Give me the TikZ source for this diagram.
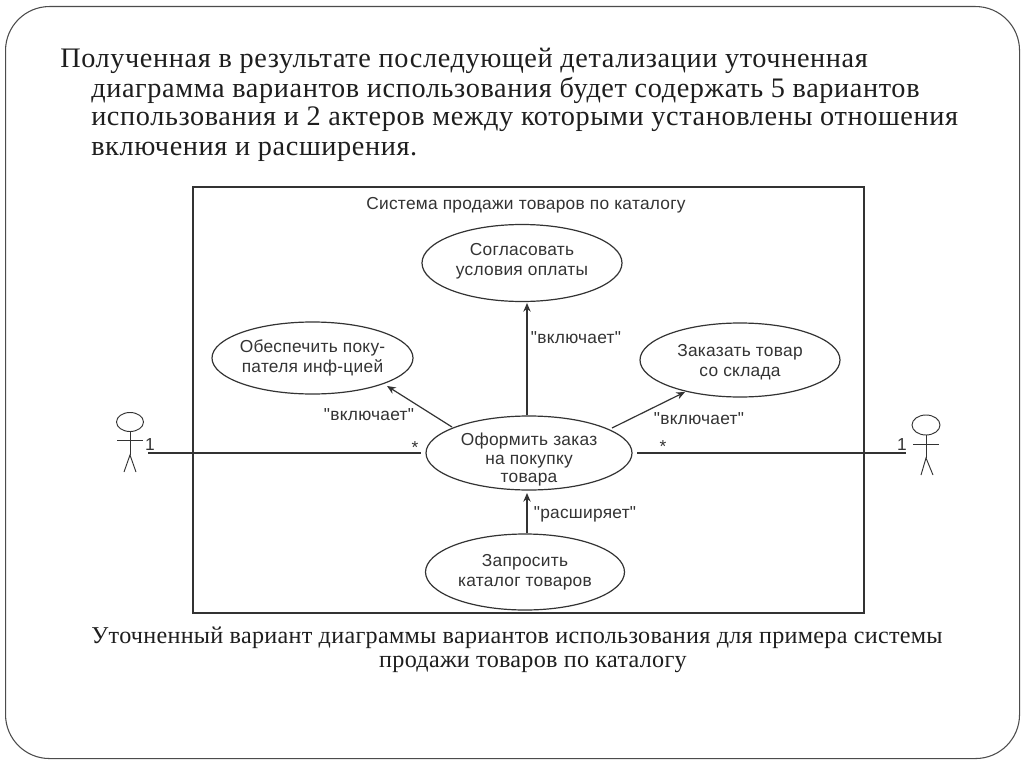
\documentclass[tikz,border=0pt]{standalone}
\usepackage{fontspec}
\setmainfont{Liberation Serif}
\newfontfamily\headfont[LetterSpace=2.2]{Liberation Serif}
\newfontfamily\capfont[LetterSpace=1.2]{Liberation Serif}
\newfontfamily\diafont[LetterSpace=1.5]{Liberation Sans}
\usetikzlibrary{shapes.geometric,arrows.meta}
\definecolor{ink}{HTML}{1E1E1E}
\definecolor{dia}{HTML}{333333}
\newcommand{\uclines}[2]{\raisebox{\dimexpr#1-3.2pt\relax}[0pt][0pt]{\begin{tabular}{@{}c@{}}#2\end{tabular}}}
\tikzset{
  x=0.75pt,y=-0.75pt,
  headline/.style={anchor=base west,inner sep=0,text=ink,font=\headfont\fontsize{21.2}{22}\selectfont},
  capline/.style={anchor=base,inner sep=0,text=ink,font=\capfont\fontsize{18.1}{20}\selectfont},
  usecase/.style={draw=dia,line width=0.9pt,ellipse,minimum width=#1*0.75pt,inner sep=-14pt,text=dia,font=\diafont\fontsize{13}{15}\selectfont},
  dialabel/.style={inner sep=0,text=dia,font=\diafont\fontsize{13}{15}\selectfont},
  dep/.style={draw=dia,line width=0.9pt,-{Stealth[length=6.5pt,width=5.5pt]}},
  assoc/.style={draw=dia,line width=0.9pt},
  stick/.style={draw=dia,line width=0.7pt},
}
\begin{document}
\begin{tikzpicture}
\useasboundingbox (0,0) rectangle (1024,767);
\fill[white] (0,0) rectangle (1024,767);
\node[draw=black!70,line width=0.8pt,rounded corners=33pt,minimum width=1014*0.75pt,minimum height=752*0.75pt,inner sep=0,anchor=north west] (slide) at (5,6) {};
\node[headline] (h1) at (60,68) {Полученная в результате последующей детализации уточненная};
\node[headline] (h2) at (91,98) {диаграмма вариантов использования будет содержать 5 вариантов};
\node[headline] (h3) at (91,125) {использования и 2 актеров между которыми установлены отношения};
\node[headline] (h4) at (91,155) {включения и расширения.};
\node[draw=dia,line width=1.2pt,minimum width=671*0.75pt,minimum height=426*0.75pt,inner sep=0,anchor=north west] (frame) at (192,186) {};
\node[dialabel] (title) at (526,205) {Система продажи товаров по каталогу};
\node[usecase=200,minimum height=77*0.75pt] (pay) at (522,263) {\uclines{1.5pt}{Согласовать\\условия оплаты}};
\node[usecase=201,minimum height=72*0.75pt] (info) at (312.5,358) {\uclines{0pt}{Обеспечить поку-\\пателя инф-цией}};
\node[usecase=200,minimum height=74*0.75pt] (stock) at (740,360) {\uclines{-2pt}{Заказать товар\\со склада}};
\node[usecase=206,minimum height=74*0.75pt,font=\diafont\fontsize{13}{14}\selectfont] (order) at (529,453) {\uclines{-5.25pt}{Оформить заказ\\на покупку\\товара}};
\node[usecase=199,minimum height=76*0.75pt] (catalog) at (525,572) {\uclines{0pt}{Запросить\\каталог товаров}};
\coordinate (o1) at (527,415);
\coordinate (p1) at (527,303);
\coordinate (o2) at (452,427);
\coordinate (i1) at (387,386);
\coordinate (o3) at (612,428);
\coordinate (s1) at (685,392);
\coordinate (c1) at (527,533);
\coordinate (o4) at (527,493);
\draw[dep] (o1) -- (p1);
\draw[dep] (o2) -- (i1);
\draw[dep] (o3) -- (s1);
\draw[dep] (c1) -- (o4);
\node[dialabel] (l1) at (576,338) {"включает"};
\node[dialabel] (l2) at (369,415) {"включает"};
\node[dialabel] (l3) at (699,419) {"включает"};
\node[dialabel] (l4) at (585,514) {"расширяет"};
% left actor
\node[draw=dia,line width=0.7pt,ellipse,minimum width=27*0.75pt,minimum height=19*0.75pt,inner sep=0] (ahead) at (130,422) {};
\coordinate (ahip) at (130,455);
\coordinate (aarmL) at (117,440);
\coordinate (aarmR) at (143,440);
\coordinate (alegL) at (124,472);
\coordinate (alegR) at (136,472);
\draw[stick] (ahead.south) -- (ahip);
\draw[stick] (aarmL) -- (aarmR);
\draw[stick] (alegL) -- (ahip) -- (alegR);
% right actor
\node[draw=dia,line width=0.7pt,ellipse,minimum width=28*0.75pt,minimum height=20*0.75pt,inner sep=0] (bhead) at (926,425) {};
\coordinate (bhip) at (926,458);
\coordinate (barmL) at (913,444);
\coordinate (barmR) at (939,444);
\coordinate (blegL) at (921,475);
\coordinate (blegR) at (933,475);
\draw[stick] (bhead.south) -- (bhip);
\draw[stick] (barmL) -- (barmR);
\draw[stick] (blegL) -- (bhip) -- (blegR);
% associations
\coordinate (al) at (148,453);
\coordinate (ol) at (421,453);
\coordinate (or) at (637,453);
\coordinate (br) at (906,453);
\draw[assoc] (al) -- (ol);
\draw[assoc] (or) -- (br);
\node[dialabel] (m1) at (150,445) {1};
\node[dialabel] (m2) at (415,448) {*};
\node[dialabel] (m3) at (663,447) {*};
\node[dialabel] (m4) at (902,445) {1};
\node[capline] (c1a) at (517,643) {Уточненный вариант диаграммы вариантов использования для примера системы};
\node[capline] (c2a) at (533,667) {продажи товаров по каталогу};
\end{tikzpicture}
\end{document}
